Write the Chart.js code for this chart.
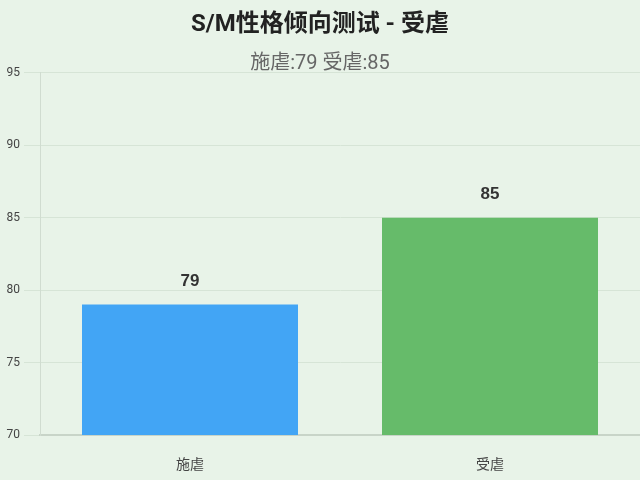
<!DOCTYPE html>
<html>
<head>
<meta charset="utf-8">
<script src="https://cdn.jsdelivr.net/npm/chart.js@4"></script>
<style>
  html, body { margin: 0; padding: 0; background: #e8f3e8; }
  #wrap { width: 640px; height: 480px; }
</style>
</head>
<body>
<div id="wrap"><canvas id="chart"></canvas></div>
<script>
// S/M test result — two bars
const labels = ["施虐", "受虐"];
const scores = [79, 85];
const barColors = ["#42a5f5", "#66bb6a"];
const yTicks = { min: 70, max: 95, step: 5 };

const FONT = "Roboto, 'Noto Sans CJK SC', sans-serif";

// draw the value above each bar
const valueLabels = {
  id: "valueLabels",
  afterDatasetsDraw(chart) {
    const ctx = chart.ctx;
    const meta = chart.getDatasetMeta(0);
    ctx.save();
    ctx.font = "bold 17px 'Liberation Sans', sans-serif";
    ctx.fillStyle = "#333";
    ctx.textAlign = "center";
    ctx.textBaseline = "bottom";
    meta.data.forEach((bar, i) => {
      ctx.fillText(String(scores[i]), bar.x, bar.y - 15);
    });
    ctx.restore();
  }
};

new Chart(document.getElementById("chart"), {
  type: "bar",
  data: {
    labels: labels,
    datasets: [{ data: scores, backgroundColor: barColors, borderWidth: 0 }],
  },
  options: {
    responsive: true,
    maintainAspectRatio: false,
    animation: false,
    layout: { padding: { top: 11, right: 0, left: 0, bottom: 0 } },
    plugins: {
      legend: { display: false },
      tooltip: { enabled: false },
      title: {
        display: true,
        text: "S/M性格倾向测试 - 受虐",
        color: "#222",
        font: { family: FONT, size: 24, weight: "bold" },
        padding: { top: 0, bottom: 12 },
      },
      subtitle: {
        display: true,
        text: "施虐:79 受虐:85",
        color: "#666",
        font: { family: FONT, size: 20 },
        padding: { top: 0, bottom: -3 },
      },
    },
    scales: {
      x: {
        grid: { display: false, drawTicks: false },
        border: { color: "#c8d4c8", width: 2 },
        ticks: { color: "#444", padding: 22, font: { family: FONT, size: 14 } },
        afterFit(scale) { scale.height = 45; },
      },
      y: {
        min: yTicks.min,
        max: yTicks.max,
        ticks: { stepSize: yTicks.step, color: "#444", padding: 4, font: { family: FONT, size: 12 } },
        grid: { color: "#d6e4d6", tickLength: 16 },
        border: { color: "#d0dcd0" },
        afterFit(scale) { scale.width = 40; },
      },
    },
  },
  plugins: [valueLabels],
});
</script>
</body>
</html>
